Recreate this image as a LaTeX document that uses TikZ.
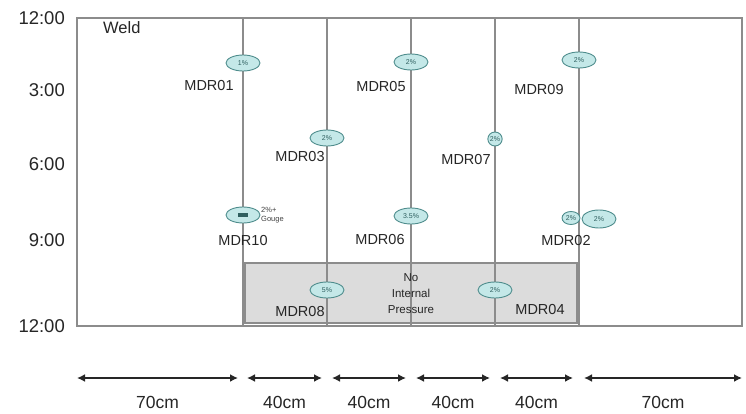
\documentclass[tikz,border=0pt]{standalone}
\usepackage{fontspec}
\setmainfont{Liberation Sans}
\usetikzlibrary{arrows.meta,shapes.geometric,calc}
\definecolor{gridgray}{HTML}{8C8C8C}
\definecolor{defill}{HTML}{C4E8E8}
\definecolor{dedraw}{HTML}{4E8C8C}
\definecolor{detext}{HTML}{2F5F5F}
\definecolor{boxgray}{HTML}{DCDCDC}
\tikzset{
  vline/.style={draw=gridgray,line width=1.6pt},
  defect/.style={ellipse,draw=dedraw,fill=defill,line width=0.9pt,minimum width=34pt,minimum height=16pt,inner sep=0pt,font=\fontsize{7}{8}\selectfont,text=detext},
  smalldef/.style={defect,minimum width=14pt,minimum height=14pt},
  mdr/.style={font=\fontsize{14.5}{16}\selectfont,text=black!85,inner sep=0pt},
  tlabel/.style={font=\fontsize{18.5}{20}\selectfont,text=black!85,anchor=east,inner sep=0pt},
  dim/.style={{Latex[length=8pt,width=8pt]}-{Latex[length=8pt,width=8pt]},line width=2.4pt,black!85},
  dimlabel/.style={font=\fontsize{17.5}{19}\selectfont,text=black!85,inner sep=0pt}
}
\begin{document}
\begin{tikzpicture}[x=1pt,y=-1pt]
\useasboundingbox (0,0) rectangle (746,414);
% gray pressure box
\node[draw=gridgray,fill=boxgray,line width=1.2pt,minimum width=332pt,minimum height=60pt,inner sep=0pt] (nip) at (411,293) {};
% plot frame
\node[draw=gridgray,line width=1.2pt,minimum width=665pt,minimum height=308pt,inner sep=0pt] (frame) at (409.5,172) {};
% vertical lines
\foreach \i/\x in {1/243,2/327,3/411,4/495,5/579}{
  \coordinate (t\i) at (\x,18);
  \coordinate (b\i) at (\x,326);
  \draw[vline] (t\i) -- (b\i);
}
\node[font=\fontsize{11.5}{16}\selectfont,align=center,text=black!85] (niptext) at (411,294) {No\\Internal\\Pressure};
% time labels
\node[tlabel] (h12a) at (65,18) {12:00};
\node[tlabel] (h3) at (65,90) {3:00};
\node[tlabel] (h6) at (65,164) {6:00};
\node[tlabel] (h9) at (65,240) {9:00};
\node[tlabel] (h12b) at (65,326) {12:00};
\node[font=\fontsize{16.5}{18}\selectfont,text=black!85,anchor=west,inner sep=0pt] (weld) at (103,28) {Weld};
% defects
\node[defect] (d01) at (243,63) {1\%};
\node[mdr] (l01) at (209,86) {MDR01};
\node[defect] (d05) at (411,62) {2\%};
\node[mdr] (l05) at (381,87) {MDR05};
\node[defect] (d09) at (579,60) {2\%};
\node[mdr] (l09) at (539,90) {MDR09};
\node[defect] (d03) at (327,138) {2\%};
\node[mdr] (l03) at (300,157) {MDR03};
\node[smalldef] (d07) at (495,139) {2\%};
\node[mdr] (l07) at (466,160) {MDR07};
\node[defect] (d10) at (243,215) {};
\node[fill=detext,minimum width=10pt,minimum height=4pt,inner sep=0pt] (g10) at (d10.center) {};
\node[font=\fontsize{7.5}{9}\selectfont,align=left,anchor=west,text=black!75,inner sep=0pt] (t10) at (261,215) {2\%+\\Gouge};
\node[mdr] (l10) at (243,241) {MDR10};
\node[defect] (d06) at (411,216) {3.5\%};
\node[mdr] (l06) at (380,240) {MDR06};
\node[defect,minimum width=18pt,minimum height=13pt] (d02a) at (571,218) {2\%};
\node[defect,minimum width=34pt,minimum height=18pt] (d02b) at (599,219) {2\%};
\node[mdr] (l02) at (566,241) {MDR02};
\node[defect] (d08) at (327,290) {5\%};
\node[mdr] (l08) at (300,312) {MDR08};
\node[defect] (d04) at (495,290) {2\%};
\node[mdr] (l04) at (540,310) {MDR04};
% dimension arrows
\foreach \i/\a/\b/\t in {1/77/238/70cm,2/247/322/40cm,3/332/406/40cm,4/416/490/40cm,5/500/573/40cm,6/584/742/70cm}{
  \coordinate (s\i) at (\a,378);
  \coordinate (e\i) at (\b,378);
  \draw[dim] (s\i) -- (e\i);
  \node[dimlabel] (m\i) at ($(s\i)!0.5!(e\i)+(0,24)$) {\t};
}
\end{tikzpicture}
\end{document}
